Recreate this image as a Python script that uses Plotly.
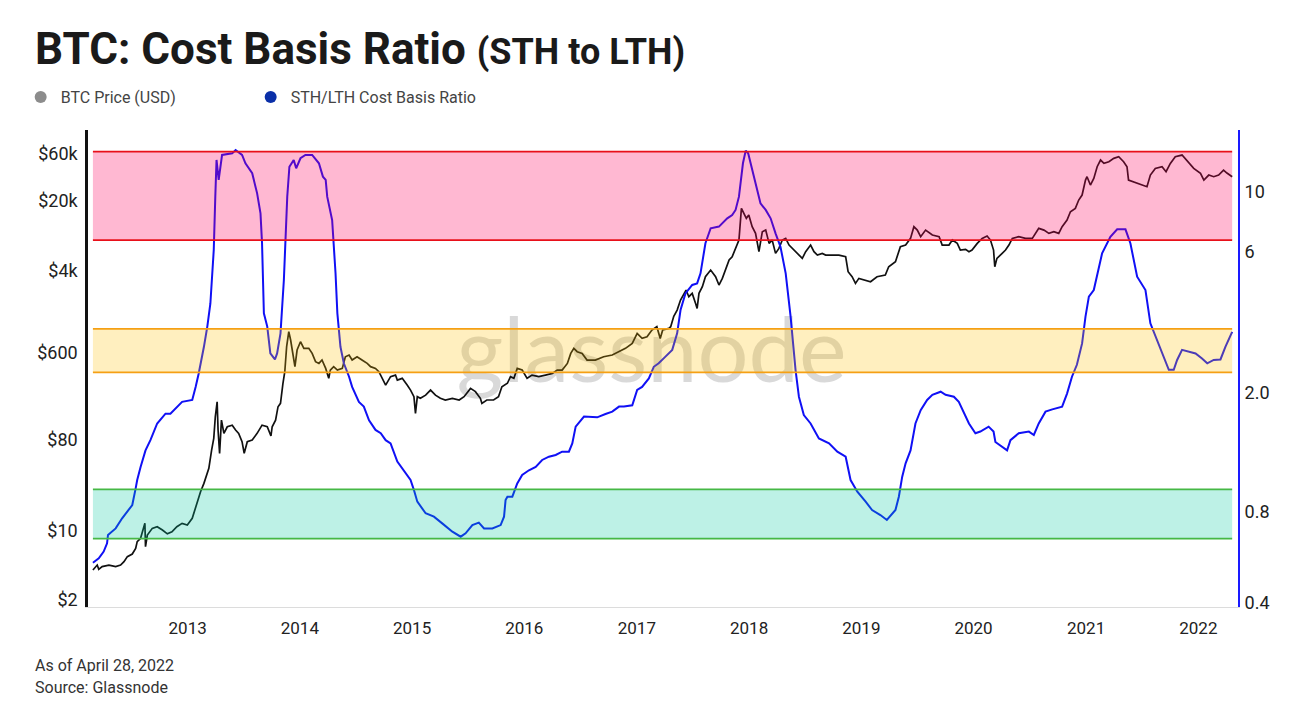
import plotly.graph_objects as go

# ─── DATA ──────────────────────────────────────────────────────────────────

price_dates = [
    "2012-02-28", "2012-03-07", "2012-03-13", "2012-03-18", "2012-03-29", "2012-04-20",
    "2012-05-12", "2012-05-28", "2012-06-08", "2012-06-19", "2012-07-05", "2012-07-16",
    "2012-07-21", "2012-08-01", "2012-08-12", "2012-08-15", "2012-08-17", "2012-08-23",
    "2012-09-08", "2012-09-24", "2012-10-11", "2012-10-27", "2012-11-11", "2012-11-27",
    "2012-12-14", "2012-12-31", "2013-01-16", "2013-01-27", "2013-02-12", "2013-02-23",
    "2013-03-06", "2013-03-11", "2013-03-20", "2013-03-27", "2013-04-01", "2013-04-07",
    "2013-04-10", "2013-04-15", "2013-04-21", "2013-04-29", "2013-05-10", "2013-05-26",
    "2013-06-06", "2013-06-16", "2013-06-27", "2013-07-04", "2013-07-14", "2013-07-30",
    "2013-08-15", "2013-08-31", "2013-09-17", "2013-09-29", "2013-10-03", "2013-10-14",
    "2013-10-22", "2013-10-30", "2013-11-07", "2013-11-13", "2013-11-19", "2013-11-26",
    "2013-12-02", "2013-12-12", "2013-12-16", "2013-12-23", "2014-01-03", "2014-01-14",
    "2014-01-30", "2014-02-10", "2014-02-21", "2014-03-04", "2014-03-14", "2014-03-26",
    "2014-04-05", "2014-04-10", "2014-04-21", "2014-05-03", "2014-05-19", "2014-05-29",
    "2014-06-10", "2014-06-20", "2014-07-06", "2014-07-22", "2014-08-08", "2014-08-19",
    "2014-09-04", "2014-09-15", "2014-09-26", "2014-10-07", "2014-10-23", "2014-11-08",
    "2014-11-14", "2014-11-30", "2014-12-16", "2014-12-27", "2015-01-07", "2015-01-12",
    "2015-01-18", "2015-01-28", "2015-02-14", "2015-03-02", "2015-03-18", "2015-04-03",
    "2015-04-19", "2015-05-12", "2015-06-03", "2015-06-19", "2015-07-10", "2015-07-26",
    "2015-08-11", "2015-08-16", "2015-09-01", "2015-09-23", "2015-10-09", "2015-10-20",
    "2015-11-07", "2015-11-17", "2015-11-28", "2015-12-09", "2015-12-25", "2016-01-10",
    "2016-01-26", "2016-02-17", "2016-03-10", "2016-04-01", "2016-04-17", "2016-05-03",
    "2016-05-20", "2016-05-31", "2016-06-10", "2016-06-21", "2016-07-07", "2016-07-23",
    "2016-08-19", "2016-09-15", "2016-10-13", "2016-11-04", "2016-11-25", "2016-12-17",
    "2017-01-02", "2017-01-18", "2017-02-03", "2017-02-19", "2017-03-07", "2017-03-18",
    "2017-03-26", "2017-04-15", "2017-04-21", "2017-05-01", "2017-05-12", "2017-05-23",
    "2017-06-03", "2017-06-10", "2017-06-19", "2017-06-30", "2017-07-11", "2017-07-16",
    "2017-07-22", "2017-08-02", "2017-08-12", "2017-08-29", "2017-09-14", "2017-09-25",
    "2017-10-06", "2017-10-17", "2017-10-28", "2017-11-07", "2017-11-18", "2017-11-29",
    "2017-12-07", "2017-12-15", "2017-12-23", "2017-12-31", "2018-01-11", "2018-01-22",
    "2018-02-02", "2018-02-13", "2018-02-24", "2018-03-07", "2018-03-17", "2018-03-28",
    "2018-04-08", "2018-04-19", "2018-04-30", "2018-05-11", "2018-05-27", "2018-06-12",
    "2018-06-23", "2018-07-04", "2018-07-20", "2018-07-31", "2018-08-11", "2018-08-27",
    "2018-09-07", "2018-09-29", "2018-10-20", "2018-11-11", "2018-11-19", "2018-12-02",
    "2018-12-13", "2018-12-24", "2019-01-09", "2019-01-31", "2019-02-21", "2019-03-20",
    "2019-03-31", "2019-04-22", "2019-05-08", "2019-05-25", "2019-06-10", "2019-06-21",
    "2019-07-02", "2019-07-13", "2019-07-29", "2019-08-20", "2019-09-11", "2019-09-21",
    "2019-10-13", "2019-10-24", "2019-11-09", "2019-11-19", "2019-12-06", "2019-12-17",
    "2019-12-27", "2020-01-13", "2020-01-29", "2020-02-14", "2020-02-25", "2020-03-06",
    "2020-03-10", "2020-03-17", "2020-04-03", "2020-04-14", "2020-04-25", "2020-05-06",
    "2020-05-27", "2020-06-18", "2020-07-10", "2020-07-21", "2020-07-31", "2020-08-17",
    "2020-09-02", "2020-09-18", "2020-10-04", "2020-10-15", "2020-10-31", "2020-11-11",
    "2020-11-27", "2020-12-08", "2020-12-19", "2020-12-30", "2021-01-04", "2021-01-15",
    "2021-01-26", "2021-02-06", "2021-02-17", "2021-02-28", "2021-03-16", "2021-04-01",
    "2021-04-17", "2021-05-03", "2021-05-14", "2021-05-19", "2021-06-04", "2021-06-21",
    "2021-07-07", "2021-07-18", "2021-07-29", "2021-08-14", "2021-09-05", "2021-09-18",
    "2021-10-02", "2021-10-18", "2021-11-09", "2021-12-01", "2021-12-17", "2022-01-08",
    "2022-01-19", "2022-02-04", "2022-02-20", "2022-03-08", "2022-03-24", "2022-04-04",
    "2022-04-21",
]
btc_price = [
    4.00, 4.32, 4.48, 4.06, 4.32, 4.48,
    4.32, 4.48, 4.84, 5.44, 5.78, 6.59,
    7.69, 8.30, 10.45, 11.73, 6.85, 8.96,
    10.45, 10.86, 10.06, 9.2, 9.67, 10.86,
    11.73, 11.29, 13.16, 17.23, 24.35, 29.5,
    37.2, 41.7, 63.7, 83.4, 137, 194,
    101, 59, 127, 93.5, 109, 113,
    101, 93.5, 77.2, 59, 77.2, 80.2,
    93.5, 113, 109, 88, 109, 127,
    173, 187, 297, 388, 691, 977,
    806, 548, 436, 640, 775, 665,
    665, 592, 489, 470, 508, 419,
    333, 403, 436, 403, 419, 548,
    570, 508, 548, 508, 470, 436,
    419, 388, 333, 285, 346, 359,
    320, 333, 285, 254, 218, 148,
    218, 210, 226, 254, 226, 210,
    202, 210, 202, 218, 264, 245,
    210, 187, 202, 202, 218, 274,
    297, 346, 333, 419, 403, 333,
    359, 346, 359, 373, 403, 403,
    470, 592, 665, 616, 592, 508,
    508, 548, 570, 616, 665, 746,
    940, 837, 870, 1015, 1096, 837,
    1015, 1055, 1096, 1392, 1610, 2028,
    2365, 2554, 2190, 2365, 1877, 1673,
    2365, 2757, 3474, 4051, 3474, 2866,
    3343, 4051, 5103, 5511, 6678, 8095,
    16810, 14980, 13350, 14410, 11010, 9441,
    6184, 9810, 10190, 7497, 8095, 5951,
    6678, 8095, 8412, 7215, 6427, 5727,
    5303, 6184, 7215, 6184, 5727, 5951,
    5727, 5727, 5727, 5511, 3898, 3474,
    2979, 3343, 3217, 3096, 3474, 3610,
    4375, 4910, 6940, 7215, 8412, 11010,
    10190, 8741, 10190, 9085, 8741, 7215,
    7215, 8095, 7497, 6427, 6527, 6184,
    6427, 7497, 8412, 8878, 8095, 6427,
    4375, 5303, 5951, 6427, 7215, 8412,
    8741, 8412, 8412, 9441, 10595, 10190,
    9441, 9810, 9441, 11010, 12840, 15560,
    16810, 20370, 22870, 32320, 34900, 28800,
    33590, 43950, 51280, 47480, 49340, 53280,
    55370, 49340, 43950, 32320, 31100, 29920,
    28800, 27710, 36270, 42300, 43950, 39160,
    47480, 55370, 57530, 47480, 42300, 37700,
    32320, 36270, 34900, 36270, 40700, 38000,
    34900,
]

ratio_dates = [
    "2012-02-28", "2012-03-18", "2012-04-03", "2012-04-14", "2012-04-17", "2012-05-12",
    "2012-06-02", "2012-07-05", "2012-07-16", "2012-07-21", "2012-08-01", "2012-08-17",
    "2012-09-02", "2012-09-24", "2012-10-21", "2012-11-06", "2012-12-14", "2013-01-16",
    "2013-01-27", "2013-02-06", "2013-02-23", "2013-03-06", "2013-03-16", "2013-03-27",
    "2013-04-01", "2013-04-05", "2013-04-12", "2013-04-18", "2013-04-23", "2013-05-26",
    "2013-06-06", "2013-06-27", "2013-07-08", "2013-07-30", "2013-08-15", "2013-08-26",
    "2013-08-31", "2013-09-06", "2013-09-17", "2013-09-27", "2013-10-12", "2013-10-19",
    "2013-10-30", "2013-11-10", "2013-11-15", "2013-11-21", "2013-11-28", "2013-12-12",
    "2013-12-20", "2014-01-03", "2014-01-19", "2014-02-10", "2014-03-04", "2014-03-17",
    "2014-03-26", "2014-03-31", "2014-04-16", "2014-04-21", "2014-04-27", "2014-05-03",
    "2014-05-13", "2014-05-24", "2014-06-10", "2014-06-20", "2014-07-12", "2014-07-28",
    "2014-08-14", "2014-09-04", "2014-09-21", "2014-10-07", "2014-10-23", "2014-11-14",
    "2014-12-05", "2014-12-27", "2015-01-07", "2015-01-18", "2015-02-14", "2015-03-13",
    "2015-04-09", "2015-05-12", "2015-06-08", "2015-06-24", "2015-07-16", "2015-08-06",
    "2015-08-23", "2015-09-19", "2015-10-16", "2015-10-27", "2015-11-01", "2015-11-07",
    "2015-11-23", "2015-12-09", "2015-12-25", "2016-01-16", "2016-02-07", "2016-02-28",
    "2016-03-21", "2016-04-12", "2016-05-03", "2016-05-25", "2016-06-05", "2016-06-16",
    "2016-07-13", "2016-07-29", "2016-08-25", "2016-09-21", "2016-10-13", "2016-11-04",
    "2016-11-20", "2016-12-17", "2017-01-02", "2017-01-18", "2017-02-09", "2017-02-25",
    "2017-03-13", "2017-04-04", "2017-04-26", "2017-05-12", "2017-05-23", "2017-06-08",
    "2017-06-30", "2017-07-16", "2017-07-27", "2017-08-12", "2017-08-29", "2017-09-25",
    "2017-10-22", "2017-11-07", "2017-11-18", "2017-11-29", "2017-12-12", "2017-12-21",
    "2017-12-29", "2018-01-06", "2018-01-22", "2018-02-07", "2018-02-24", "2018-03-12",
    "2018-03-28", "2018-04-13", "2018-04-30", "2018-05-16", "2018-06-01", "2018-06-12",
    "2018-06-28", "2018-07-20", "2018-08-16", "2018-09-18", "2018-10-15", "2018-11-11",
    "2018-11-27", "2018-12-19", "2019-01-15", "2019-02-05", "2019-03-04", "2019-03-25",
    "2019-04-22", "2019-05-03", "2019-05-14", "2019-05-25", "2019-06-10", "2019-06-26",
    "2019-07-13", "2019-08-03", "2019-08-20", "2019-09-16", "2019-10-02", "2019-10-29",
    "2019-11-14", "2019-12-06", "2019-12-17", "2020-01-07", "2020-01-23", "2020-02-19",
    "2020-03-06", "2020-03-12", "2020-04-03", "2020-04-19", "2020-04-30", "2020-05-27",
    "2020-06-29", "2020-07-15", "2020-07-31", "2020-08-22", "2020-09-13", "2020-10-15",
    "2020-10-31", "2020-11-16", "2020-12-02", "2020-12-19", "2020-12-30", "2021-01-10",
    "2021-01-26", "2021-02-11", "2021-02-22", "2021-03-21", "2021-04-12", "2021-05-09",
    "2021-05-25", "2021-06-16", "2021-07-13", "2021-07-29", "2021-08-20", "2021-09-11",
    "2021-09-27", "2021-10-13", "2021-10-24", "2021-11-09", "2021-12-01", "2021-12-23",
    "2022-01-13", "2022-01-30", "2022-02-20", "2022-03-14", "2022-03-30", "2022-04-16",
    "2022-04-21",
]
cost_basis_ratio = [
    0.548, 0.567, 0.598, 0.638, 0.681, 0.717,
    0.776, 0.861, 0.981, 1.047, 1.16, 1.32,
    1.43, 1.63, 1.76, 1.76, 1.93, 1.96,
    2.17, 2.41, 2.97, 3.48, 4.17, 6.34,
    9.62, 12.82, 10.96, 12.49, 13.33, 13.50,
    13.86, 13.33, 12.49, 11.55, 9.87, 8.44,
    6.68, 3.86, 3.48, 2.82, 2.69, 2.82,
    3.30, 5.01, 6.85, 9.62, 12.16, 12.82,
    12.01, 12.99, 13.33, 13.33, 12.49, 11.25,
    10.96, 9.62, 8.01, 6.85, 5.28, 3.86,
    2.97, 2.61, 2.35, 2.17, 1.93, 1.86,
    1.67, 1.55, 1.51, 1.43, 1.395, 1.21,
    1.13, 1.047, 0.968, 0.884, 0.807, 0.786,
    0.746, 0.699, 0.672, 0.690, 0.736, 0.750,
    0.717, 0.717, 0.736, 0.786, 0.895, 0.919,
    0.919, 1.02, 1.089, 1.13, 1.16, 1.225,
    1.257, 1.274, 1.307, 1.307, 1.395, 1.59,
    1.72, 1.72, 1.71, 1.755, 1.788, 1.86,
    1.86, 1.88, 2.12, 2.17, 2.32, 2.54,
    2.61, 2.75, 2.9, 3.30, 3.96, 4.51,
    4.82, 4.88, 5.28, 6.68, 7.51, 7.61,
    8.12, 8.33, 8.67, 9.62, 12.49, 13.79,
    13.50, 12.49, 10.68, 9.13, 8.67, 8.12,
    7.22, 6.50, 5.28, 3.76, 2.48, 2.01,
    1.74, 1.63, 1.45, 1.395, 1.307, 1.257,
    1.047, 0.956, 0.884, 0.828, 0.796, 0.766,
    0.828, 0.919, 1.075, 1.193, 1.32, 1.63,
    1.81, 1.96, 2.04, 2.09, 2.04, 2.01,
    1.93, 1.72, 1.63, 1.51, 1.53, 1.59,
    1.53, 1.41, 1.36, 1.32, 1.43, 1.51,
    1.53, 1.49, 1.63, 1.788, 1.82, 1.86,
    2.06, 2.35, 2.58, 3.05, 3.76, 4.40,
    4.63, 5.56, 6.17, 7.03, 7.45, 7.45,
    6.68, 5.14, 4.63, 3.57, 3.13, 2.75,
    2.48, 2.48, 2.68, 2.90, 2.86, 2.82,
    2.71, 2.61, 2.68, 2.69, 2.97, 3.26,
    3.34,
]

# ratio zones: (low, high, fill, edge colour)
zones = [
    (6.85, 13.68, "rgba(255,0,95,0.28)", "#e8101a"),
    (2.43, 3.42, "rgba(255,190,0,0.25)", "#f5a014"),
    (0.662, 0.973, "rgba(0,200,160,0.26)", "#45b845"),
]

year_ticks = [f"{y}-01-01" for y in range(2013, 2023)]
year_labels = [str(y) for y in range(2013, 2023)]

price_ticks = [2, 10, 80, 600, 4000, 20000, 60000]
price_labels = ["$2", "$10", "$80", "$600", "$4k", "$20k", "$60k"]

ratio_ticks = [0.4, 0.818, 2.07, 6.25, 10]
ratio_labels = ["0.4", "0.8", "2.0", "6", "10"]

FONT = "Roboto"

# ─── FIGURE ──────────────────────────────────────────────────────────────────
# page body has an 8px margin, so the figure is 8px smaller on each axis

fig = go.Figure()

fig.add_trace(go.Scatter(
    x=price_dates, y=btc_price, mode="lines", name="BTC Price (USD)",
    line=dict(color="#111111", width=1.7), showlegend=False, yaxis="y",
))
fig.add_trace(go.Scatter(
    x=ratio_dates, y=cost_basis_ratio, mode="lines", name="STH/LTH Cost Basis Ratio",
    line=dict(color="#1010f5", width=2), showlegend=False, yaxis="y2",
))

# legend entries (dots only)
fig.add_trace(go.Scatter(
    x=[None], y=[None], mode="markers", name="BTC Price (USD)",
    marker=dict(color="#8c8c8c", size=12),
))
fig.add_trace(go.Scatter(
    x=[None], y=[None], mode="markers", name="STH/LTH Cost Basis Ratio",
    marker=dict(color="#0a2fa8", size=12), yaxis="y2",
))

shapes = []
# watermark behind the lines
shapes.append(dict(
    type="rect", xref="paper", yref="paper", x0=0.29, x1=0.69, y0=0.46, y1=0.635,
    line=dict(width=0), fillcolor="rgba(0,0,0,0)", layer="below",
    label=dict(text="glassnode", font=dict(family="Lato", size=90, color="rgba(120,120,120,0.28)"),
               textposition="middle center"),
))
for lo, hi, fill, edge in zones:
    shapes.append(dict(
        type="rect", xref="x", yref="y2", x0=price_dates[0], x1=price_dates[-1],
        y0=lo, y1=hi, fillcolor=fill, line=dict(width=0), layer="above",
    ))
    for v in (lo, hi):
        shapes.append(dict(
            type="line", xref="x", yref="y2", x0=price_dates[0], x1=price_dates[-1],
            y0=v, y1=v, line=dict(color=edge, width=1.8), layer="above",
        ))

fig.update_layout(
    width=1292, height=718,
    margin=dict(l=80, r=62, t=122, b=119),
    paper_bgcolor="white", plot_bgcolor="white",
    font=dict(family=FONT, color="#222222"),
    title=dict(
        text="<b>BTC: Cost Basis Ratio</b> <b><span style='font-size:36px'>(STH to LTH)</span></b>",
        font=dict(family=FONT, size=44, color="#1a1a1a"),
        xref="container", yref="container", x=0.0209, y=0.943,
        xanchor="left", yanchor="middle",
    ),
    legend=dict(
        orientation="h", xref="container", yref="container",
        x=0.0098, y=0.876, xanchor="left", yanchor="middle",
        font=dict(family=FONT, size=16, color="#444444"),
        entrywidth=185, entrywidthmode="pixels",
        bgcolor="rgba(0,0,0,0)",
    ),
    xaxis=dict(
        type="date", range=["2012-02-12", "2022-05-10"],
        tickvals=year_ticks, ticktext=year_labels,
        tickfont=dict(size=17, color="#222222"),
        showgrid=False, zeroline=False,
        showline=True, linecolor="#dcdcdc", linewidth=1,
        ticks="", ticklabelstandoff=6,
    ),
    yaxis=dict(
        type="log", range=[0.231, 5.011],
        tickvals=price_ticks, ticktext=price_labels,
        tickfont=dict(size=18, color="#222222"),
        showgrid=False, zeroline=False,
        showline=True, linecolor="#111111", linewidth=2.5,
        ticks="", ticklabelstandoff=4,
    ),
    yaxis2=dict(
        type="log", range=[-0.4116, 1.2097], overlaying="y", side="right",
        tickvals=ratio_ticks, ticktext=ratio_labels,
        tickfont=dict(size=18, color="#222222"),
        showgrid=False, zeroline=False,
        showline=True, linecolor="#1a1aff", linewidth=2,
        ticks="", ticklabelstandoff=1,
    ),
    shapes=shapes,
    annotations=[
        dict(text="As of April 28, 2022", xref="paper", yref="paper",
             x=-0.0478, y=-0.122, xanchor="left", yanchor="middle", showarrow=False,
             font=dict(family=FONT, size=16, color="#333333")),
        dict(text="Source: Glassnode", xref="paper", yref="paper",
             x=-0.0478, y=-0.168, xanchor="left", yanchor="middle", showarrow=False,
             font=dict(family=FONT, size=16, color="#333333")),
    ],
)

fig.write_html("out.html")
